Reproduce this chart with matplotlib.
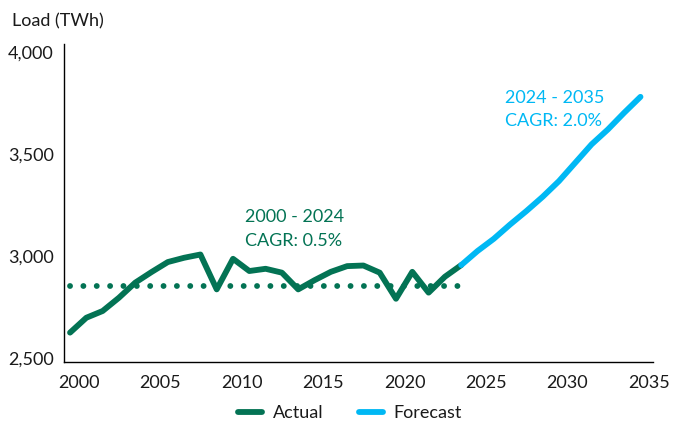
import numpy as np
import matplotlib
matplotlib.use('Agg')
import matplotlib.pyplot as plt
from matplotlib.transforms import ScaledTranslation

plt.rcParams['font.family'] = ['Lato', 'DejaVu Sans']

# Datos
anios_real = list(range(2000, 2025))
carga_real = [2624, 2697, 2730, 2795, 2869, 2921, 2970, 2991, 3007, 2836,
              2986, 2926, 2937, 2918, 2836, 2881, 2922, 2950, 2953, 2918,
              2790, 2922, 2820, 2898, 2955]
anios_prev = list(range(2024, 2036))
carga_prev = [2955, 3024, 3084, 3154, 3220, 3290, 3367, 3457, 3547, 3620,
              3702, 3780]
promedio_real = 2855
ticks_x = [2000, 2005, 2010, 2015, 2020, 2025, 2030, 2035]
ticks_y = [2500, 3000, 3500, 4000]

verde = '#037354'
azul = '#00B8F4'
negro = '#1a1a1a'

fig = plt.figure(figsize=(6.86, 4.25), dpi=100)
ax = fig.add_axes([64 / 686, 1 - 362 / 425, (652.7 - 64) / 686, (362 - 44) / 425])

# Linea de promedio (punteada)
ax.plot([anios_real[0], anios_real[-1]], [promedio_real, promedio_real],
        color=verde, linewidth=4.2, linestyle=(0, (0.01, 2.28)),
        dash_capstyle='round', zorder=2)

ax.plot(anios_real, carga_real, color=verde, linewidth=4.2,
        solid_capstyle='round', solid_joinstyle='round', label='Actual', zorder=3)
ax.plot(anios_prev, carga_prev, color=azul, linewidth=4.2,
        solid_capstyle='round', solid_joinstyle='round', label='Forecast', zorder=4)

ax.set_xlim(1999.63, 2035.75)
ax.set_ylim(2480, 4039)
ax.set_xticks(ticks_x)
ax.set_xticklabels([str(t) for t in ticks_x])
ax.set_yticks(ticks_y)
ax.set_yticklabels([f'{t:,}' for t in ticks_y])
ax.tick_params(axis='both', length=0, labelsize=13, colors=negro)
ax.tick_params(axis='y', pad=7.5)
ax.tick_params(axis='x', pad=9)

# Las etiquetas del eje x estan un poco desplazadas a la derecha
for lbl in ax.get_xticklabels():
    lbl.set_transform(lbl.get_transform() + ScaledTranslation(8.5 / 100, 0, fig.dpi_scale_trans))

for lado in ['top', 'right']:
    ax.spines[lado].set_visible(False)
for lado in ['left', 'bottom']:
    ax.spines[lado].set_color('black')
    ax.spines[lado].set_linewidth(1.0)

# Anotaciones CAGR
ax.text(2010.74, 3164, '2000 - 2024', color=verde, fontsize=13, va='baseline', ha='left')
ax.text(2010.74, 3047, 'CAGR: 0.5%', color=verde, fontsize=13, va='baseline', ha='left')
ax.text(2026.69, 3752, '2024 - 2035', color=azul, fontsize=13, va='baseline', ha='left')
ax.text(2026.69, 3635, 'CAGR: 2.0%', color=azul, fontsize=13, va='baseline', ha='left')

fig.text(12 / 686, 1 - 26 / 425, 'Load (TWh)', fontsize=13, color=negro, va='baseline', ha='left')

leg = fig.legend(loc='center', bbox_to_anchor=(350 / 686, 1 - 413 / 425), ncol=2,
                 frameon=False, fontsize=13, handlelength=1.3, handletextpad=0.6,
                 columnspacing=2.0, borderpad=0)
for txt in leg.get_texts():
    txt.set_color(negro)

fig.savefig('out.png', dpi=100)
